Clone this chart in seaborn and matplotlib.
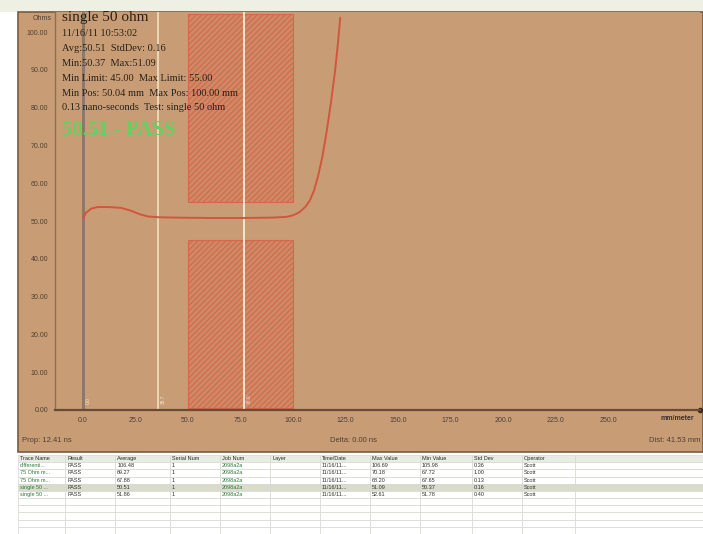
import numpy as np
import pandas as pd
import seaborn as sns
import matplotlib.pyplot as plt
from matplotlib.patches import Rectangle

# TDR trace of the "single 50 ohm" test
dist_mm = [0, 1.5, 4, 7, 12, 18, 23, 27, 31, 36, 45, 60, 75, 90, 97, 100,
           103, 106, 108, 110, 112, 114, 116, 118, 120, 121.5, 122.5]
ohms = [50.6, 52.2, 53.3, 53.7, 53.7, 53.5, 52.7, 51.8, 51.2, 51.0, 50.9, 50.8,
        50.8, 50.9, 51.1, 51.5, 52.3, 53.8, 55.4, 58.0, 62.0, 67.0, 73.5, 81.0,
        89.5, 97.5, 103.8]

x_ticks = [0, 25, 50, 75, 100, 125, 150, 175, 200, 225, 250]
y_ticks = [0, 10, 20, 30, 40, 50, 60, 70, 80, 90, 100]

min_pos, max_pos = 50.0, 100.0
min_limit, max_limit = 45.0, 55.0
cursors = [0.0, 35.7, 76.9]

info_lines = ["11/16/11 10:53:02",
              "Avg:50.51  StdDev: 0.16",
              "Min:50.37  Max:51.09",
              "Min Limit: 45.00  Max Limit: 55.00",
              "Min Pos: 50.04 mm  Max Pos: 100.00 mm",
              "0.13 nano-seconds  Test: single 50 ohm"]

col_labels = ["Trace Name", "Result", "Average", "Serial Num", "Job Num", "Layer",
              "Time/Date", "Max Value", "Min Value", "Std Dev", "Operator", ""]
trace_names = ["differenti...", "75 Ohm m...", "75 Ohm m...", "single 50 ...", "single 50 ..."]
results = ["PASS"] * 5
averages = ["106.48", "69.27", "67.88", "50.51", "51.86"]
max_vals = ["106.69", "70.18", "68.20", "51.09", "52.61"]
min_vals = ["105.98", "67.72", "67.65", "50.37", "51.78"]
std_devs = ["0.36", "1.00", "0.13", "0.16", "0.40"]

W, H = 703, 534
tan = "#c89d76"


def fx(px):
    return px / W


def fy(py):
    return 1 - py / H


sns.set_style("white")
plt.rcParams["font.family"] = ["Liberation Sans", "DejaVu Sans"]
plt.rcParams["hatch.linewidth"] = 0.8

fig = plt.figure(figsize=(7.03, 5.34), dpi=100, facecolor="white")

# window chrome
fig.patches.append(Rectangle((0, fy(12)), 1, 12 / H, transform=fig.transFigure,
                             facecolor="#eef0e4", edgecolor="none", zorder=-10))
fig.patches.append(Rectangle((fx(18), fy(452)), 1 - fx(18), 440 / H, transform=fig.transFigure,
                             facecolor=tan, edgecolor="#7a5a40", lw=1.2, zorder=-10))

ax = fig.add_axes([fx(55), fy(410), fx(645), 398 / H])
ax.set_facecolor(tan)

# forbidden zones
for y0, y1 in [(max_limit, 104.8), (0.4, min_limit)]:
    ax.add_patch(Rectangle((min_pos, y0), max_pos - min_pos, y1 - y0,
                           facecolor="#cc8a66", edgecolor="#d8664a", hatch="//////",
                           lw=0.8, zorder=1))

# cursors
ax.axvline(cursors[0], color="#8c7a68", lw=2.2, zorder=2)
ax.axvline(cursors[1], color="#ecd6b6", lw=1.4, zorder=2)
ax.axvline(cursors[2], color="#f3e6d0", lw=1.4, zorder=2)
for c in cursors:
    ax.text(c + 1.2, 1.5, f"{c:.1f}", rotation=90, fontsize=3.5, color="#ede2d0",
            ha="left", va="bottom", zorder=3)

trace = pd.DataFrame({"dist": dist_mm, "ohms": ohms})
sns.lineplot(data=trace, x="dist", y="ohms", ax=ax, color="#d4553e", lw=1.4, zorder=4)

ax.set_xlim(-13.3, 293.8)
ax.set_ylim(0, 105.3)
ax.set_xticks(x_ticks)
ax.set_xticklabels([f"{v:.1f}" for v in x_ticks])
ax.set_yticks(y_ticks)
ax.set_yticklabels([f"{v:.2f}" for v in y_ticks])
ax.tick_params(length=0, labelsize=5, labelcolor="#4e4034", pad=5)
ax.set_xlabel("")
ax.set_ylabel("")
for s in ["top", "right"]:
    ax.spines[s].set_visible(False)
ax.spines["bottom"].set_color("#6a4a32")
ax.spines["bottom"].set_linewidth(1.6)
ax.spines["left"].set_color("#8e6e54")
ax.spines["left"].set_linewidth(1.0)
ax.plot([1], [0], marker="o", ms=3, color="#3a2a1e", transform=ax.transAxes, clip_on=False)

fig.text(fx(677), fy(419), "mm/meter", fontsize=5, color="#3a3028", ha="center", va="center",
         weight="bold")
fig.text(fx(52), fy(18), "Ohms", fontsize=5, color="#4e4034", ha="right", va="center")

# annotation block
serif = ["Liberation Serif", "DejaVu Serif"]
fig.text(fx(62), fy(18), "single 50 ohm", fontsize=11, family=serif, color="#2a2018", va="center")
for i, line in enumerate(info_lines):
    fig.text(fx(62), fy(34 + i * 14.8), line, fontsize=7.5, family=serif, color="#2a2018",
             va="center")
fig.text(fx(62), fy(130), "50.51 - PASS", fontsize=15, family=serif, color="#62d25e",
         weight="bold", va="center")

# status bar
fig.text(fx(22), fy(440), "Prop: 12.41 ns", fontsize=5.5, color="#4e4034", va="center")
fig.text(fx(330), fy(440), "Delta: 0.00 ns", fontsize=5.5, color="#4e4034", va="center")
fig.text(fx(700), fy(440), "Dist: 41.53 mm", fontsize=5.5, color="#4e4034", va="center", ha="right")

# results table
rows = []
for i in range(5):
    rows.append([trace_names[i], results[i], averages[i], "1", "2098a2a", "",
                 "11/16/11...", max_vals[i], min_vals[i], std_devs[i], "Scott", ""])
rows += [[""] * len(col_labels) for _ in range(5)]

widths = [47, 50, 55, 50, 50, 50, 50, 50, 52, 50, 53, 128]
tax = fig.add_axes([fx(18), 0, fx(685), (534 - 455) / H])
tax.axis("off")
tbl = tax.table(cellText=rows, colLabels=col_labels, colWidths=[w / sum(widths) for w in widths],
                cellLoc="left", colLoc="left", bbox=[0, 0, 1, 1])
tbl.auto_set_font_size(False)
tbl.set_fontsize(4)
for (r, c), cell in tbl.get_celld().items():
    cell.set_edgecolor("#d6d8d0")
    cell.set_linewidth(0.5)
    cell.PAD = 0.04
    if r == 0:
        cell.set_facecolor("#e9ece2")
        cell.get_text().set_color("#2a2a2a")
    elif r == 4:
        cell.set_facecolor("#dadccb")
    else:
        cell.set_facecolor("white")
    if r > 0 and c in (0, 4):
        cell.get_text().set_color("#2e7a3a")
    elif r > 0:
        cell.get_text().set_color("#333333")

fig.savefig("out.png", dpi=100, facecolor="white")
